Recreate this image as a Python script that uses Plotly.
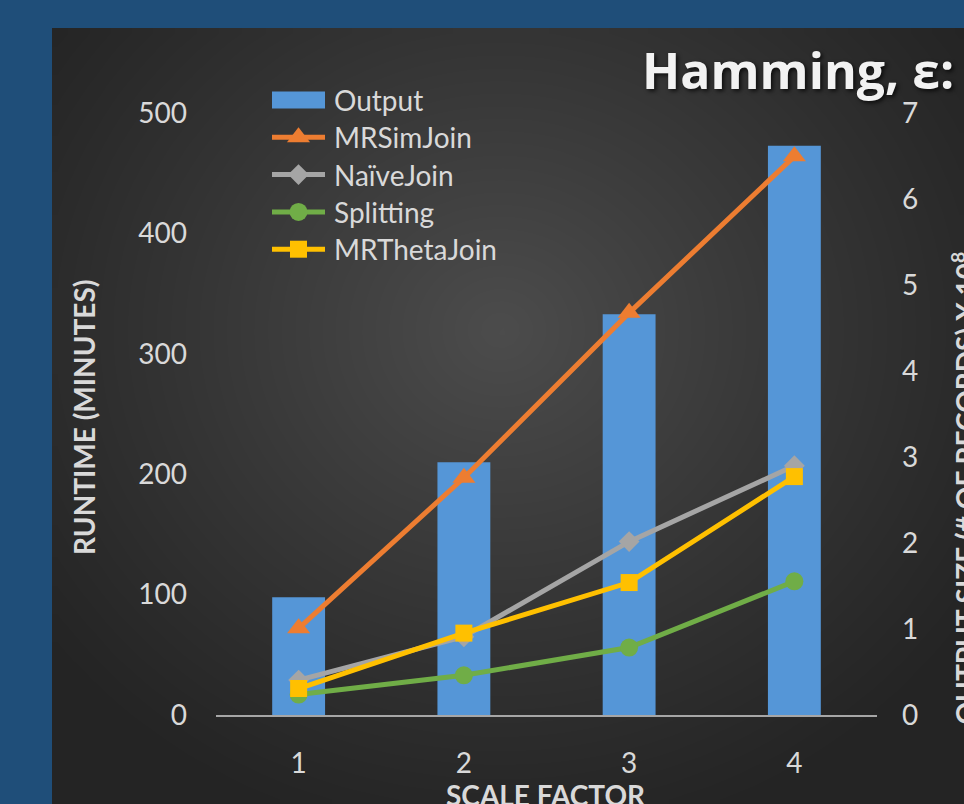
import numpy as np
import plotly.graph_objects as go

# ---- data -------------------------------------------------------------
scale_factor = [1, 2, 3, 4]
output_size = [1.37, 2.94, 4.66, 6.62]          # output records, x 10^8
mrsimjoin = [72, 197, 334, 464]                 # runtime, minutes
naivejoin = [29, 65, 144, 207]
splitting = [17, 33, 56, 111]
mrthetajoin = [22, 68, 110, 198]

runtime_ticks = [0, 100, 200, 300, 400, 500]
output_ticks = [0, 1, 2, 3, 4, 5, 6, 7]

series_names = ["MRSimJoin", "NaïveJoin", "Splitting", "MRThetaJoin"]
series_values = [mrsimjoin, naivejoin, splitting, mrthetajoin]

# ---- styling ------------------------------------------------------------
W, H = 964, 804
BAR_COLOR = "#5596d7"
series_style = [
    dict(color="#ED7D31", symbol="triangle-up", size=20),
    dict(color="#A5A5A5", symbol="diamond", size=16),
    dict(color="#70AD47", symbol="circle", size=18),
    dict(color="#FFC000", symbol="square", size=17),
]
LINE_W = 5
TXT = "#d9d9d9"
FONT = "Lato"

# plot area in pixels
PL, PR, PT, PB = 216, 877, 113, 715

fig = go.Figure()

# ---- dark radial-gradient panel (background axes in pixel units) ------
gx = np.linspace(52, W, 93)
gy = np.linspace(28, H, 81)
cxs = (gx[:-1] + gx[1:]) / 2
cys = (gy[:-1] + gy[1:]) / 2
X, Y = np.meshgrid(cxs, cys)
d = np.sqrt(((X - 500) / 570) ** 2 + ((Y - 330) / 520) ** 2)
z = np.clip(1 - d, 0, 1) ** 1.1
fig.add_trace(go.Heatmap(
    x=gx, y=gy, z=z, zmin=0, zmax=1, zsmooth="best",
    colorscale=[[0, "#242424"], [1, "#4c4c4c"]],
    showscale=False, hoverinfo="skip", xaxis="x", yaxis="y",
))

# ---- bars: output size on the right axis ------------------------------
fig.add_trace(go.Bar(
    x=scale_factor, y=output_size, name="Output",
    marker=dict(color=BAR_COLOR, line=dict(width=0)),
    width=0.32, xaxis="x2", yaxis="y2", showlegend=False,
))

# ---- runtime lines on the left axis -----------------------------------
for name, vals, st in zip(series_names, series_values, series_style):
    fig.add_trace(go.Scatter(
        x=scale_factor, y=vals, name=name, mode="lines+markers",
        line=dict(color=st["color"], width=LINE_W),
        marker=dict(symbol=st["symbol"], size=st["size"], color=st["color"],
                    opacity=1, line=dict(width=0)),
        xaxis="x2", yaxis="y3", showlegend=False,
    ))

# ---- legend (drawn on the pixel background axes) ----------------------
row0, row_step = 100, 37.3
lx0, lx1, ltext = 272, 325, 332
legend_names = ["Output"] + series_names
for i, name in enumerate(legend_names):
    ry = row0 + i * row_step
    if i == 0:
        fig.add_shape(type="rect", xref="x", yref="y",
                      x0=lx0, x1=lx1, y0=ry - 8.5, y1=ry + 8.5,
                      fillcolor=BAR_COLOR, line=dict(width=0), layer="above")
    else:
        st = series_style[i - 1]
        fig.add_trace(go.Scatter(
            x=[lx0, (lx0 + lx1) / 2, lx1], y=[ry, ry, ry],
            mode="lines+markers",
            line=dict(color=st["color"], width=LINE_W),
            marker=dict(symbol=st["symbol"], size=[0, st["size"], 0],
                        color=st["color"], opacity=1, line=dict(width=0)),
            xaxis="x", yaxis="y", showlegend=False, hoverinfo="skip",
        ))
    fig.add_annotation(x=ltext, y=ry, xref="x", yref="y", text=name,
                       showarrow=False, xanchor="left", yanchor="middle",
                       font=dict(family=FONT, size=28, color=TXT))

# ---- titles -------------------------------------------------------------
fig.add_annotation(x=640, y=70, xref="x", yref="y", text="<b>Hamming, ε:</b>",
                   showarrow=False, xanchor="left", yanchor="middle",
                   font=dict(family="Open Sans", size=50, color="#f2f2f2",
                             shadow="2px 2px 4px rgba(0,0,0,0.75)"))
fig.add_annotation(x=84, y=418, xref="x", yref="y", text="<b>RUNTIME (MINUTES)</b>",
                   showarrow=False, textangle=-90, xanchor="center", yanchor="middle",
                   font=dict(family=FONT, size=28, color=TXT))
fig.add_annotation(x=944, y=488, xref="x", yref="y",
                   text="<b>OUTPUT SIZE (# OF RECORDS) X 10<sup>8</sup></b>",
                   showarrow=False, textangle=-90, xanchor="left", yanchor="middle",
                   font=dict(family=FONT, size=28, color=TXT))
fig.add_annotation(x=546, y=776, xref="x", yref="y", text="<b>SCALE FACTOR</b>",
                   showarrow=False, xanchor="center", yanchor="top",
                   font=dict(family=FONT, size=28, color=TXT))

tickfont = dict(family=FONT, size=28, color=TXT)
fig.update_layout(
    width=W, height=H,
    margin=dict(l=0, r=0, t=0, b=0, pad=0, autoexpand=False),
    paper_bgcolor="#1f4e79",
    plot_bgcolor="rgba(0,0,0,0)",
    showlegend=False,
    barmode="overlay",
    xaxis=dict(domain=[0, 1], range=[0, W], visible=False, fixedrange=True),
    yaxis=dict(domain=[0, 1], range=[H, 0], visible=False, fixedrange=True),
    xaxis2=dict(
        domain=[PL / W, PR / W], range=[0.5, 4.5], anchor="y2",
        tickvals=scale_factor, ticktext=[str(v) for v in scale_factor],
        tickfont=tickfont, showgrid=False, zeroline=False,
        showline=True, linecolor="#a6a6a6", linewidth=2,
        ticks="", ticklabelstandoff=22,
    ),
    yaxis2=dict(
        domain=[(H - PB) / H, (H - PT) / H], range=[0, 7], anchor="x2",
        side="right", tickvals=output_ticks, tickfont=tickfont,
        showgrid=False, zeroline=False, showline=False, ticks="",
        ticklabelstandoff=24,
    ),
    yaxis3=dict(
        range=[0, 500], anchor="x2", overlaying="y2", side="left",
        tickvals=runtime_ticks, tickfont=tickfont,
        showgrid=False, zeroline=False, showline=False, ticks="",
        ticklabelstandoff=28,
    ),
)

fig.write_html("out.html")
